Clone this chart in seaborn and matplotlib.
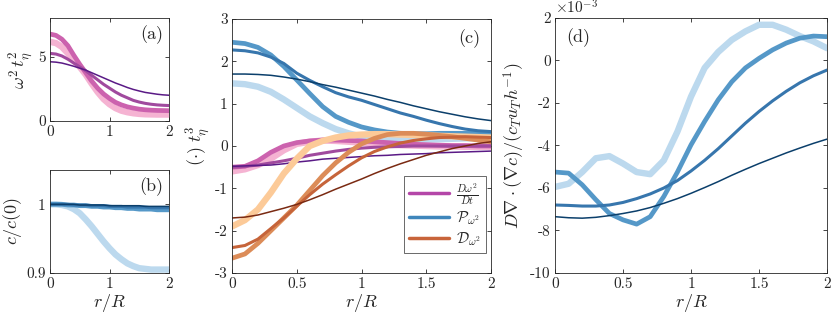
import numpy as np
import pandas as pd
import matplotlib
matplotlib.use("Agg")
import matplotlib.pyplot as plt
from matplotlib.ticker import FuncFormatter
from matplotlib.lines import Line2D
import seaborn as sns

# radial positions r/R
r = np.round(np.arange(0, 2.01, 0.1), 2)

# (a) enstrophy profiles, light -> dark
a_light = [6.15, 6.05, 5.75, 5.25, 4.65, 4.2, 3.6, 2.9, 2.25, 1.7, 1.3, 1.0, 0.8, 0.68, 0.6, 0.55, 0.52, 0.51, 0.5, 0.5, 0.5]
a_mid = [6.75, 6.65, 6.35, 5.85, 5.1, 4.4, 3.75, 3.1, 2.55, 2.1, 1.75, 1.45, 1.25, 1.1, 1.0, 0.92, 0.87, 0.84, 0.82, 0.81, 0.8]
a_med = [5.25, 5.2, 5.05, 4.8, 4.5, 4.2, 3.9, 3.55, 3.2, 2.85, 2.55, 2.25, 2.0, 1.8, 1.6, 1.47, 1.37, 1.3, 1.25, 1.22, 1.2]
a_dark = [4.6, 4.57, 4.5, 4.38, 4.25, 4.1, 3.95, 3.75, 3.55, 3.35, 3.15, 2.95, 2.78, 2.6, 2.45, 2.33, 2.22, 2.15, 2.08, 2.03, 2.0]

# (b) concentration profiles
b_light = [1.0, 1.0, 0.999, 0.997, 0.993, 0.987, 0.978, 0.968, 0.957, 0.946, 0.936, 0.927, 0.92, 0.914, 0.91, 0.907, 0.906, 0.905, 0.905, 0.905, 0.905]
b_mid = [1.0, 1.0, 1.0, 0.999, 0.999, 0.998, 0.998, 0.997, 0.997, 0.996, 0.996, 0.995, 0.995, 0.994, 0.994, 0.993, 0.993, 0.993, 0.992, 0.992, 0.992]
b_med = [1.0, 1.0, 1.0, 1.0, 0.999, 0.999, 0.999, 0.998, 0.998, 0.998, 0.997, 0.997, 0.997, 0.996, 0.996, 0.996, 0.996, 0.995, 0.995, 0.995, 0.995]
b_dark = [1.0, 1.0, 1.0, 1.0, 1.0, 0.999, 0.999, 0.999, 0.999, 0.999, 0.998, 0.998, 0.998, 0.998, 0.998, 0.998, 0.997, 0.997, 0.997, 0.997, 0.997]

# (c) budget terms: material derivative
dt_light = [-0.6, -0.55, -0.45, -0.3, -0.1, 0.05, 0.1, 0.13, 0.12, 0.1, 0.08, 0.06, 0.04, 0.02, 0.01, 0.0, -0.01, -0.01, -0.02, -0.02, -0.02]
dt_mid = [-0.5, -0.48, -0.35, -0.15, 0.0, 0.08, 0.12, 0.14, 0.14, 0.13, 0.12, 0.1, 0.08, 0.06, 0.04, 0.03, 0.02, 0.01, 0.01, 0.0, 0.0]
dt_med = [-0.5, -0.48, -0.45, -0.4, -0.35, -0.29, -0.22, -0.17, -0.12, -0.08, -0.05, -0.03, -0.02, -0.01, 0.0, 0.0, 0.0, 0.0, 0.0, 0.0, 0.0]
dt_dark = [-0.48, -0.47, -0.46, -0.45, -0.42, -0.38, -0.35, -0.31, -0.29, -0.27, -0.25, -0.23, -0.22, -0.2, -0.19, -0.18, -0.16, -0.15, -0.14, -0.13, -0.12]

# (c) production
p_light = [1.48, 1.46, 1.4, 1.28, 1.1, 0.9, 0.7, 0.54, 0.4, 0.3, 0.22, 0.18, 0.15, 0.14, 0.14, 0.15, 0.16, 0.17, 0.18, 0.19, 0.2]
p_mid = [2.45, 2.42, 2.33, 2.15, 1.88, 1.56, 1.24, 0.93, 0.7, 0.56, 0.45, 0.38, 0.33, 0.3, 0.29, 0.29, 0.3, 0.3, 0.3, 0.3, 0.3]
p_med = [2.27, 2.25, 2.2, 2.1, 1.95, 1.72, 1.55, 1.4, 1.26, 1.16, 1.08, 0.98, 0.88, 0.78, 0.7, 0.61, 0.53, 0.46, 0.4, 0.36, 0.34]
p_dark = [1.7, 1.7, 1.69, 1.67, 1.63, 1.58, 1.52, 1.45, 1.39, 1.32, 1.25, 1.18, 1.1, 1.03, 0.95, 0.88, 0.81, 0.75, 0.69, 0.64, 0.6]

# (c) dissipation
d_light = [-1.9, -1.75, -1.5, -1.1, -0.65, -0.3, 0.0, 0.12, 0.2, 0.25, 0.27, 0.28, 0.28, 0.27, 0.26, 0.25, 0.24, 0.23, 0.22, 0.21, 0.2]
d_mid = [-2.65, -2.55, -2.3, -2.0, -1.7, -1.4, -1.05, -0.7, -0.4, -0.15, 0.05, 0.18, 0.27, 0.3, 0.3, 0.28, 0.25, 0.22, 0.18, 0.14, 0.1]
d_med = [-2.4, -2.35, -2.2, -1.95, -1.7, -1.42, -1.15, -0.9, -0.68, -0.47, -0.28, -0.13, -0.02, 0.07, 0.13, 0.17, 0.2, 0.21, 0.22, 0.21, 0.2]
d_dark = [-1.7, -1.68, -1.63, -1.55, -1.47, -1.38, -1.27, -1.15, -1.02, -0.9, -0.78, -0.65, -0.53, -0.42, -0.32, -0.22, -0.14, -0.06, 0.0, 0.06, 0.1]

# (d) diffusion term, units of 1e-3
e_light = [-5.95, -5.8, -5.25, -4.6, -4.5, -4.85, -5.25, -5.35, -4.7, -3.35, -1.7, -0.35, 0.4, 0.97, 1.37, 1.68, 1.68, 1.45, 1.15, 0.9, 0.58]
e_mid = [-5.25, -5.3, -5.85, -6.55, -7.2, -7.5, -7.7, -7.35, -6.4, -5.25, -3.97, -2.87, -1.85, -1.0, -0.35, 0.1, 0.5, 0.82, 1.05, 1.15, 1.12]
e_med = [-6.8, -6.82, -6.85, -6.85, -6.8, -6.68, -6.5, -6.28, -6.0, -5.65, -5.2, -4.7, -4.15, -3.55, -2.95, -2.4, -1.9, -1.45, -1.05, -0.72, -0.45]
e_dark = [-7.35, -7.4, -7.42, -7.38, -7.3, -7.2, -7.08, -6.92, -6.72, -6.5, -6.25, -5.98, -5.7, -5.4, -5.12, -4.85, -4.6, -4.35, -4.12, -3.9, -3.7]

purples = ["#f5b3d2", "#cc62ae", "#a04a9e", "#5a1a86"]
blues = ["#bcd9ee", "#5598c8", "#3776ad", "#0b3f6b"]
oranges = ["#fcca98", "#dc8c58", "#c6643a", "#7a2a12"]
widths = [4.6, 3.4, 2.2, 1.1]

sns.set_theme(style="ticks")
plt.rcParams["font.family"] = ["cmr10", "DejaVu Serif"]
plt.rcParams["mathtext.fontset"] = "cm"
plt.rcParams["axes.unicode_minus"] = False
plt.rcParams["axes.formatter.use_mathtext"] = False

fig = plt.figure(figsize=(8.31, 3.19), dpi=100)
ax_a = fig.add_axes([0.0602, 0.6207, 0.1432, 0.3229])
ax_b = fig.add_axes([0.0602, 0.1442, 0.1432, 0.3229])
ax_c = fig.add_axes([0.2792, 0.1442, 0.3117, 0.7962])
ax_d = fig.add_axes([0.6679, 0.1442, 0.3273, 0.7994])

fmt = FuncFormatter(lambda v, p: f"{v:g}")
LAB = 13


def draw(ax, series, colors):
    for y, c, w in zip(series, colors, widths):
        sns.lineplot(x=r, y=y, color=c, linewidth=w, ax=ax)


def style(ax):
    ax.tick_params(direction="in", length=3, width=0.6, top=True, right=True,
                   labelsize=11, colors="#262626", pad=3)
    for s in ax.spines.values():
        s.set_linewidth(0.6)
        s.set_color("#262626")
    ax.xaxis.set_major_formatter(fmt)
    ax.yaxis.set_major_formatter(fmt)
    ax.set_xlim(0, 2)


draw(ax_a, [a_light, a_mid, a_med, a_dark], purples)
style(ax_a)
ax_a.set_ylim(0, 8)
ax_a.set_xticks([0, 1, 2])
ax_a.set_yticks([0, 5])
ax_a.set_ylabel(r"$\omega^2\, t_\eta^2$", fontsize=LAB, labelpad=2)
ax_a.text(0.95, 0.93, "(a)", transform=ax_a.transAxes, ha="right", va="top", fontsize=13)

draw(ax_b, [b_light, b_mid, b_med, b_dark], blues)
style(ax_b)
ax_b.set_ylim(0.9, 1.05)
ax_b.set_xticks([0, 1, 2])
ax_b.set_yticks([0.9, 1])
ax_b.set_ylabel(r"$c/c(0)$", fontsize=LAB, labelpad=2)
ax_b.set_xlabel(r"$r/R$", fontsize=LAB, labelpad=1)
ax_b.text(0.95, 0.93, "(b)", transform=ax_b.transAxes, ha="right", va="top", fontsize=13)

draw(ax_c, [p_light, p_mid, p_med, p_dark], blues)
draw(ax_c, [dt_light, dt_mid, dt_med, dt_dark], purples)
draw(ax_c, [d_light, d_mid, d_med, d_dark], oranges)
style(ax_c)
ax_c.set_ylim(-3, 3)
ax_c.set_xticks([0, 0.5, 1, 1.5, 2])
ax_c.set_yticks(range(-3, 4))
ax_c.set_ylabel(r"$(\cdot)\ t_\eta^3$", fontsize=LAB, labelpad=2)
ax_c.set_xlabel(r"$r/R$", fontsize=LAB, labelpad=1)
ax_c.text(0.96, 0.96, "(c)", transform=ax_c.transAxes, ha="right", va="top", fontsize=13)
handles = [Line2D([], [], color="#b446a8", lw=2.5),
           Line2D([], [], color="#3f86bb", lw=2.5),
           Line2D([], [], color="#c8643a", lw=2.5)]
labels = [r"$\frac{D\omega^2}{Dt}$", r"$\mathcal{P}_{\omega^2}$", r"$\mathcal{D}_{\omega^2}$"]
leg = ax_c.legend(handles, labels, loc="lower right", bbox_to_anchor=(0.98, 0.08),
                  fontsize=11, frameon=True, fancybox=False, handlelength=2.6,
                  borderpad=0.3, labelspacing=0.2, handletextpad=0.5, borderaxespad=0)
leg.get_frame().set_edgecolor("#262626")
leg.get_frame().set_linewidth(0.6)

draw(ax_d, [e_light, e_mid, e_med, e_dark], blues)
style(ax_d)
ax_d.set_ylim(-10, 2)
ax_d.set_xticks([0, 0.5, 1, 1.5, 2])
ax_d.set_yticks(range(-10, 3, 2))
ax_d.set_ylabel(r"$D\nabla\cdot(\nabla c)/(c_T u_T h^{-1})$", fontsize=LAB, labelpad=2)
ax_d.set_xlabel(r"$r/R$", fontsize=LAB, labelpad=1)
ax_d.text(0.04, 0.96, "(d)", transform=ax_d.transAxes, ha="left", va="top", fontsize=13)
ax_d.text(0.0, 1.005, r"$\times10^{-3}$", transform=ax_d.transAxes, ha="left", va="bottom", fontsize=11)

fig.savefig("out.png", dpi=100)
